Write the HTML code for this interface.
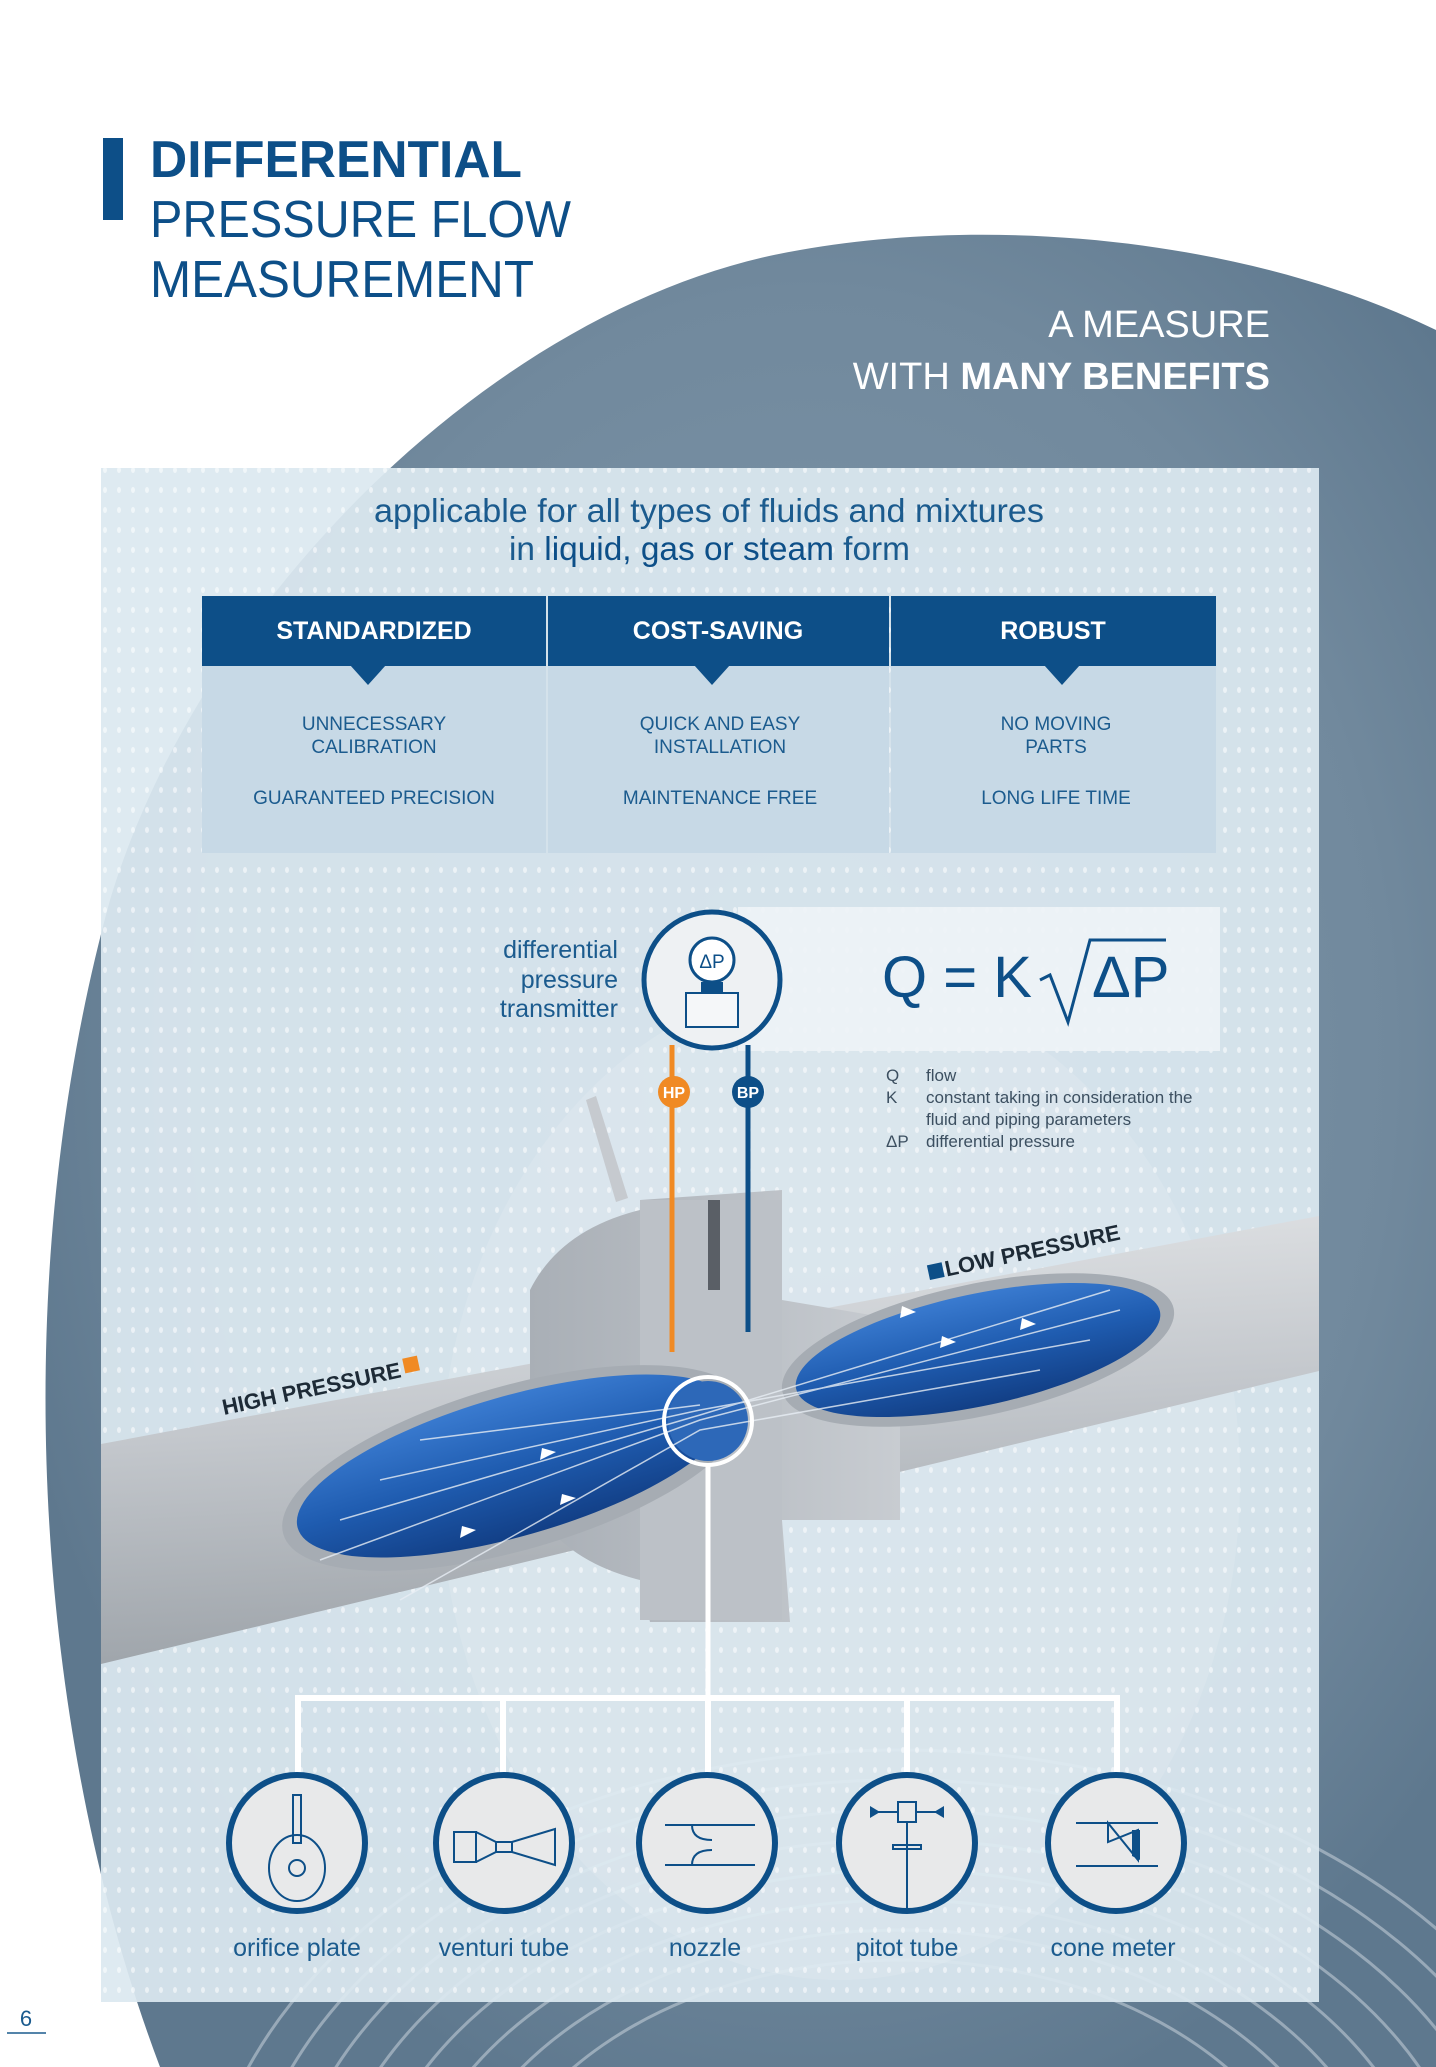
<!DOCTYPE html>
<html><head><meta charset="utf-8"><style>
html,body{margin:0;padding:0;background:#fff;overflow:hidden;width:1436px;height:2067px}
svg{display:block}
text{font-family:"Liberation Sans",Arial,sans-serif}
</style></head><body>
<svg width="1436" height="2067" viewBox="0 0 1436 2067" xmlns="http://www.w3.org/2000/svg">
<defs>
<radialGradient id="disc" cx="0.55" cy="0.45" r="0.6">
<stop offset="0" stop-color="#8199ac"/><stop offset="0.7" stop-color="#71899d"/><stop offset="1" stop-color="#5e788e"/>
</radialGradient>
<pattern id="dots" width="14" height="20" patternUnits="userSpaceOnUse">
<ellipse cx="7" cy="10" rx="2" ry="3" fill="#ffffff" opacity="0.55"/>
</pattern>
<linearGradient id="pipe" x1="0" y1="0" x2="0.15" y2="1">
<stop offset="0" stop-color="#e4e6e8"/><stop offset="0.5" stop-color="#c3c7cc"/><stop offset="1" stop-color="#9ea4aa"/>
</linearGradient>
<linearGradient id="water" x1="0" y1="0" x2="0" y2="1">
<stop offset="0" stop-color="#3a7bd0"/><stop offset="0.5" stop-color="#1f5cb0"/><stop offset="1" stop-color="#123f86"/>
</linearGradient>
<linearGradient id="flange" x1="0" y1="0" x2="1" y2="0">
<stop offset="0" stop-color="#a9afb6"/><stop offset="1" stop-color="#c8ccd1"/>
</linearGradient>
<clipPath id="page"><rect width="1436" height="2067"/></clipPath>
<clipPath id="discclip"><path d="M160,2067 C40,1750 0,1300 110,900 C200,600 500,300 800,250 C1000,215 1250,240 1436,330 L1436,2067 Z"/></clipPath>
</defs>
<g clip-path="url(#page)">
<!-- background disc -->
<path d="M160,2067 C40,1750 0,1300 110,900 C200,600 500,300 800,250 C1000,215 1250,240 1436,330 L1436,2067 Z" fill="url(#disc)"/>
<g opacity="0.45" fill="none" stroke="#dfe6ec" stroke-width="3" clip-path="url(#discclip)">
<ellipse cx="900" cy="2250" rx="700" ry="500"/>
<ellipse cx="900" cy="2250" rx="660" ry="470"/>
<ellipse cx="900" cy="2250" rx="620" ry="440"/>
<ellipse cx="900" cy="2250" rx="580" ry="410"/>
<ellipse cx="900" cy="2250" rx="540" ry="380"/>
<ellipse cx="900" cy="2250" rx="500" ry="350"/>
<ellipse cx="900" cy="2250" rx="460" ry="320"/>
<ellipse cx="900" cy="2250" rx="420" ry="290"/>
</g>

<!-- title -->
<rect x="103" y="138" width="20" height="82" fill="#0d4f88"/>
<text x="150" y="177" font-size="52" font-weight="bold" fill="#0d4f88" textLength="372" lengthAdjust="spacingAndGlyphs">DIFFERENTIAL</text>
<text x="150" y="237" font-size="52" fill="#0d4f88" textLength="421" lengthAdjust="spacingAndGlyphs">PRESSURE FLOW</text>
<text x="150" y="297" font-size="52" fill="#0d4f88" textLength="384" lengthAdjust="spacingAndGlyphs">MEASUREMENT</text>
<text x="1270" y="337" font-size="38" fill="#ffffff" text-anchor="end">A MEASURE</text>
<text x="1270" y="389" font-size="38" fill="#ffffff" text-anchor="end">WITH <tspan font-weight="bold">MANY BENEFITS</tspan></text>

<!-- panel -->
<rect x="101" y="468" width="1218" height="1534" fill="#dbe8f0" opacity="0.93"/>
<rect x="101" y="468" width="1218" height="1534" fill="url(#dots)"/>
<ellipse cx="840" cy="1480" rx="400" ry="500" fill="#ffffff" opacity="0.12"/>

<text x="374" y="522" font-size="33" fill="#1b5b8e" textLength="670" lengthAdjust="spacingAndGlyphs">applicable for all types of fluids and mixtures</text>
<text x="509" y="560" font-size="33" fill="#1b5b8e" textLength="401" lengthAdjust="spacingAndGlyphs">in <tspan fill="#0d4f88">liquid, gas or steam</tspan> form</text>

<!-- table -->
<rect x="202" y="596" width="344" height="257" fill="#c7d9e6"/>
<rect x="548" y="596" width="341" height="257" fill="#c7d9e6"/>
<rect x="891" y="596" width="325" height="257" fill="#c7d9e6"/>
<rect x="202" y="596" width="344" height="70" fill="#0d4f88"/>
<rect x="548" y="596" width="341" height="70" fill="#0d4f88"/>
<rect x="891" y="596" width="325" height="70" fill="#0d4f88"/>
<polygon points="350,665 386,665 368,685" fill="#0d4f88"/>
<polygon points="694,665 730,665 712,685" fill="#0d4f88"/>
<polygon points="1044,665 1080,665 1062,685" fill="#0d4f88"/>
<g font-size="25" font-weight="bold" fill="#fff" text-anchor="middle">
<text x="374" y="639">STANDARDIZED</text><text x="718" y="639">COST-SAVING</text><text x="1053" y="639">ROBUST</text></g>
<g font-size="19" fill="#1b5b8e" text-anchor="middle">
<text x="374" y="730">UNNECESSARY</text><text x="374" y="753">CALIBRATION</text><text x="374" y="804">GUARANTEED PRECISION</text>
<text x="720" y="730">QUICK AND EASY</text><text x="720" y="753">INSTALLATION</text><text x="720" y="804">MAINTENANCE FREE</text>
<text x="1056" y="730">NO MOVING</text><text x="1056" y="753">PARTS</text><text x="1056" y="804">LONG LIFE TIME</text></g>

<!-- formula box -->
<rect x="738" y="907" width="482" height="144" fill="#eef3f6" opacity="0.92"/>
<text x="882" y="997" font-size="58" fill="#0d4f88">Q = K</text>
<polyline points="1040,980 1050,975 1068,1022 1090,940 1166,940" fill="none" stroke="#0d4f88" stroke-width="3"/>
<text x="1092" y="997" font-size="58" fill="#0d4f88">ΔP</text>
<g font-size="17" fill="#3c4f60">
<text x="886" y="1081">Q</text><text x="926" y="1081">flow</text>
<text x="886" y="1103">K</text><text x="926" y="1103">constant taking in consideration the</text>
<text x="926" y="1125">fluid and piping parameters</text>
<text x="886" y="1147">ΔP</text><text x="926" y="1147">differential pressure</text></g>

<g font-size="25" fill="#1b5b8e" text-anchor="end">
<text x="618" y="958">differential</text><text x="618" y="988">pressure</text><text x="618" y="1017">transmitter</text></g>

<!-- pipe -->
<polygon points="101,1444 1319,1216 1319,1371 101,1664" fill="url(#pipe)"/>
<!-- flange -->
<path d="M530,1290 Q560,1230 640,1210 L640,1200 L782,1190 L782,1300 L900,1320 L900,1520 L782,1520 L790,1622 L650,1622 L640,1580 Q560,1560 530,1500 Z" fill="url(#flange)"/>
<rect x="640" y="1200" width="142" height="420" fill="#bcc1c7"/>
<rect x="708" y="1200" width="12" height="90" fill="#5a5f66"/>
<polygon points="586,1100 596,1096 628,1198 616,1202" fill="#c6cacf"/>
<!-- water ellipses -->
<ellipse cx="514" cy="1468" rx="240" ry="82" fill="#a6acb3" transform="rotate(-16 514 1468)"/>
<ellipse cx="514" cy="1466" rx="225" ry="70" fill="url(#water)" transform="rotate(-16 514 1466)"/>
<ellipse cx="978" cy="1350" rx="200" ry="66" fill="#a6acb3" transform="rotate(-12 978 1350)"/>
<ellipse cx="978" cy="1350" rx="186" ry="56" fill="url(#water)" transform="rotate(-12 978 1350)"/>
<ellipse cx="708" cy="1421" rx="40" ry="40" fill="#2d68b8"/>
<g stroke="#e8eef5" stroke-width="1.5" fill="none" opacity="0.8">
<path d="M320,1560 L700,1420 L1120,1310"/><path d="M340,1520 L700,1415 L1110,1290"/>
<path d="M380,1480 L700,1410 L1090,1340"/><path d="M420,1440 L700,1405"/><path d="M400,1600 L700,1430 L1040,1370"/>
</g>
<g fill="#ffffff">
<polygon points="460,1538 476,1530 462,1526"/><polygon points="560,1505 576,1498 562,1494"/><polygon points="540,1460 556,1452 542,1448"/>
<polygon points="940,1348 956,1342 942,1336"/><polygon points="1020,1330 1036,1324 1022,1318"/><polygon points="900,1318 916,1312 902,1306"/>
</g>
<!-- white circle and line -->
<circle cx="708" cy="1421" r="44" fill="none" stroke="#fff" stroke-width="4"/>
<line x1="708" y1="1465" x2="708" y2="1697" stroke="#fff" stroke-width="5"/>

<!-- HP / BP lines -->
<line x1="672" y1="1045" x2="672" y2="1352" stroke="#f08a24" stroke-width="5"/>
<line x1="748" y1="1045" x2="748" y2="1332" stroke="#0d4f88" stroke-width="5"/>
<circle cx="674" cy="1092" r="16" fill="#f08a24"/><text x="674" y="1098" font-size="16" font-weight="bold" fill="#fff" text-anchor="middle">HP</text>
<circle cx="748" cy="1092" r="16" fill="#0d4f88"/><text x="748" y="1098" font-size="16" font-weight="bold" fill="#fff" text-anchor="middle">BP</text>

<!-- transmitter -->
<circle cx="712" cy="980" r="68" fill="#eef1f3" stroke="#0d4f88" stroke-width="5"/>
<circle cx="712" cy="960" r="22" fill="#fff" stroke="#0d4f88" stroke-width="3"/>
<text x="712" y="968" font-size="19" fill="#0d4f88" text-anchor="middle">ΔP</text>
<rect x="701" y="982" width="22" height="10" fill="#0d4f88"/>
<rect x="686" y="993" width="52" height="34" fill="#f5f7f9" stroke="#0d4f88" stroke-width="2"/>

<!-- pressure labels -->
<g transform="rotate(-12 224 1415)"><text x="224" y="1415" font-size="22" font-weight="bold" fill="#1d2a36">HIGH PRESSURE</text><rect x="410" y="1397" width="15" height="15" fill="#f08a24"/></g>
<g transform="rotate(-12 930 1280)"><rect x="930" y="1265" width="15" height="15" fill="#0d4f88"/><text x="947" y="1280" font-size="22" font-weight="bold" fill="#1d2a36">LOW PRESSURE</text></g>

<!-- tree -->
<rect x="295" y="1695" width="825" height="6" fill="#fff"/>
<g fill="#fff"><rect x="295" y="1695" width="6" height="80"/><rect x="500" y="1695" width="6" height="80"/><rect x="705" y="1695" width="6" height="80"/><rect x="904" y="1695" width="6" height="80"/><rect x="1114" y="1695" width="6" height="80"/></g>

<g fill="#e8e9ea" stroke="#0d4f88" stroke-width="6">
<circle cx="297" cy="1843" r="68"/><circle cx="504" cy="1843" r="68"/><circle cx="707" cy="1843" r="68"/><circle cx="907" cy="1843" r="68"/><circle cx="1116" cy="1843" r="68"/></g>
<!-- icons -->
<g stroke="#0d4f88" stroke-width="2" fill="none">
<rect x="293" y="1795" width="8" height="48"/><ellipse cx="297" cy="1868" rx="28" ry="33"/><circle cx="297" cy="1868" r="8"/>
<rect x="454" y="1832" width="22" height="30"/><path d="M476,1832 L496,1842 L512,1842 L555,1829 L555,1865 L512,1852 L496,1852 L476,1862"/><line x1="496" y1="1842" x2="496" y2="1852"/><line x1="512" y1="1842" x2="512" y2="1852"/>
<line x1="665" y1="1825" x2="755" y2="1825"/><line x1="665" y1="1865" x2="755" y2="1865"/><path d="M692,1825 Q692,1840 712,1840 M712,1850 Q692,1850 692,1865"/>
<rect x="898" y="1802" width="18" height="20"/><line x1="907" y1="1822" x2="907" y2="1908"/><rect x="893" y="1845" width="28" height="4"/><line x1="872" y1="1812" x2="898" y2="1812"/><line x1="916" y1="1812" x2="942" y2="1812"/>
<line x1="1076" y1="1823" x2="1158" y2="1823"/><line x1="1076" y1="1866" x2="1158" y2="1866"/><path d="M1108,1823 L1108,1842 L1138,1830 L1138,1860 Z"/>
</g>
<g fill="#0d4f88"><polygon points="870,1806 870,1818 880,1812"/><polygon points="944,1806 944,1818 934,1812"/><polygon points="1132,1830 1140,1830 1140,1860 1132,1856"/></g>
<g font-size="25" fill="#1b5b8e" text-anchor="middle">
<text x="297" y="1956">orifice plate</text><text x="504" y="1956">venturi tube</text><text x="705" y="1956">nozzle</text><text x="907" y="1956">pitot tube</text><text x="1113" y="1956">cone meter</text></g>

<text x="26" y="2026" font-size="22" fill="#1b5b8e" text-anchor="middle">6</text>
<line x1="7" y1="2033" x2="46" y2="2033" stroke="#1b5b8e" stroke-width="1.5"/>
</g>
</svg>
</body></html>
